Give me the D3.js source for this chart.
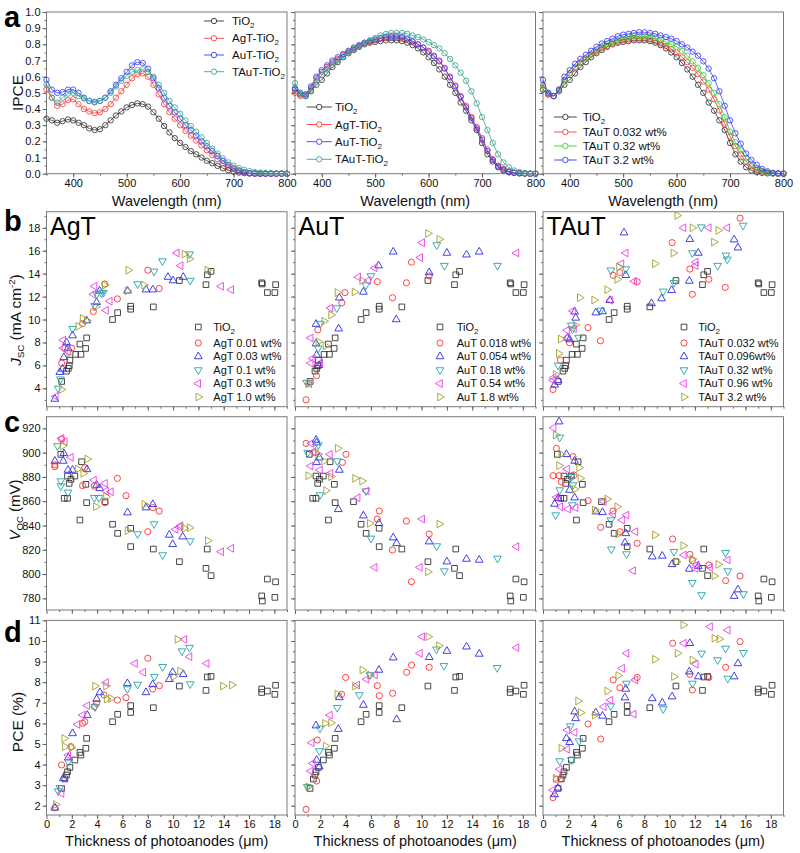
<!DOCTYPE html>
<html><head><meta charset="utf-8">
<script src="https://cdn.jsdelivr.net/npm/d3@7/dist/d3.min.js"></script>
<style>
html,body{margin:0;padding:0;background:#fff;}
svg{display:block;font-family:"Liberation Sans",Arial,Helvetica,sans-serif;}
</style></head><body>
<svg id="chart" width="800" height="853"></svg>
<script>
// ---------------- DATA ----------------
const wavelengths = [350,360,370,380,390,400,410,420,430,440,450,460,470,480,490,500,510,520,530,540,550,560,570,580,590,600,610,620,630,640,650,660,670,680,690,700,710,720,730,740,750,760,770,780,790,800];

// panel a (left)
const ipceA1TiO2 = [.34,.33,.315,.325,.335,.33,.315,.30,.28,.27,.275,.30,.33,.36,.385,.41,.425,.435,.43,.415,.38,.34,.295,.255,.22,.19,.165,.14,.12,.10,.08,.065,.048,.034,.022,.013,.007,.003,.001,0,0,0,0,0,0,0];
const ipceA1AgT  = [.52,.47,.42,.43,.455,.46,.43,.40,.385,.375,.38,.40,.43,.47,.51,.55,.59,.615,.62,.60,.55,.49,.43,.38,.34,.30,.265,.235,.205,.175,.145,.115,.09,.065,.045,.028,.015,.007,.003,.001,0,0,0,0,0,0];
const ipceA1AuT  = [.58,.52,.50,.505,.52,.52,.50,.47,.45,.445,.45,.47,.51,.55,.59,.63,.67,.69,.685,.65,.59,.53,.47,.42,.38,.34,.30,.27,.235,.20,.17,.14,.11,.08,.055,.035,.02,.01,.004,.001,0,0,0,0,0,0];
const ipceA1TAuT = [.55,.47,.44,.47,.495,.50,.48,.465,.45,.44,.45,.47,.50,.54,.575,.605,.63,.64,.645,.63,.60,.55,.50,.45,.41,.37,.33,.295,.26,.225,.19,.155,.125,.095,.07,.05,.035,.024,.016,.01,.007,.005,.003,.002,.001,0];
// panel a (middle)
const ipceA2TiO2 = [.52,.49,.48,.51,.55,.58,.62,.66,.69,.72,.745,.765,.785,.80,.81,.815,.82,.825,.825,.825,.82,.81,.795,.775,.75,.72,.685,.645,.60,.55,.50,.44,.39,.33,.27,.19,.12,.075,.04,.02,.01,.005,.002,.001,0,0];
const ipceA2AgT  = [.50,.48,.49,.53,.59,.63,.66,.69,.71,.735,.755,.775,.79,.805,.815,.825,.835,.84,.845,.845,.84,.83,.815,.80,.78,.76,.73,.70,.655,.60,.545,.48,.42,.35,.29,.22,.15,.09,.05,.03,.015,.007,.003,.001,0,0];
const ipceA2AuT  = [.53,.50,.49,.54,.60,.64,.67,.70,.72,.74,.76,.78,.795,.81,.82,.83,.84,.845,.85,.85,.845,.835,.82,.80,.78,.755,.725,.695,.65,.595,.54,.475,.41,.345,.28,.21,.14,.085,.045,.025,.012,.006,.003,.001,0,0];
const ipceA2TAuT = [.56,.50,.48,.52,.57,.61,.645,.675,.70,.725,.75,.77,.79,.81,.825,.84,.855,.865,.87,.87,.87,.865,.855,.845,.83,.815,.795,.775,.745,.71,.67,.625,.575,.51,.435,.35,.27,.19,.12,.07,.04,.02,.01,.004,.001,0];
// panel a (right)
const ipceA3T0032 = [.55,.49,.48,.52,.58,.62,.655,.685,.71,.735,.755,.775,.79,.805,.815,.825,.83,.835,.835,.835,.83,.82,.805,.79,.77,.75,.72,.69,.655,.615,.57,.52,.46,.39,.31,.23,.17,.12,.075,.045,.025,.013,.006,.003,.001,0];
const ipceA3T032  = [.54,.50,.48,.51,.57,.62,.66,.69,.715,.74,.765,.785,.80,.815,.825,.835,.845,.85,.85,.85,.845,.84,.83,.815,.80,.785,.76,.73,.695,.655,.61,.56,.50,.43,.35,.26,.195,.145,.095,.06,.035,.018,.008,.003,.001,0];
const ipceA3T32   = [.58,.50,.48,.52,.60,.64,.68,.71,.735,.76,.785,.805,.82,.835,.85,.86,.865,.87,.875,.875,.87,.865,.855,.845,.835,.82,.80,.78,.755,.73,.695,.65,.59,.51,.42,.33,.25,.185,.125,.085,.055,.03,.015,.006,.002,0];

const legendA1 = ["TiO2","AgT-TiO2","AuT-TiO2","TAuT-TiO2"];
const legendA3 = ["TiO2","TAuT 0.032 wt%","TAuT 0.32 wt%","TAuT 3.2 wt%"];

// TiO2 reference devices (thickness µm, value)
const tio2Jsc = [[1.2,4.6],[1.58,5.5],[1.72,5.74],[1.8,5.97],[1.85,6.46],[2.3,6.96],[2.72,6.96],[2.64,7.86],[3.09,7.48],[3.17,8.4],[5.22,10.0],[5.62,10.6],[6.65,11.16],[6.65,10.9],[8.44,11.1],[10.5,13.4],[12.6,13.04],[12.7,13.9],[13.0,14.2],[17.0,13.2],[17.05,13.1],[17.45,12.35],[18.04,12.35],[18.1,13.04]];
const tio2Voc = [[1.13,898.6],[1.4,862.4],[1.66,862.4],[1.66,880.7],[1.79,874.7],[1.93,878],[2.24,880.7],[2.77,892.5],[3.11,873.9],[3.17,858.8],[2.64,844.5],[4.62,859.6],[5.22,841],[5.62,833.5],[6.65,837.7],[6.65,822.6],[8.44,820.6],[10.5,810.2],[12.6,804.7],[12.7,820.6],[13.0,798.7],[17.0,782],[17.05,777.8],[17.45,795.9],[18.04,780.8],[18.1,793.6]];
const tio2Pce = [[1.19,2.84],[1.45,3.3],[1.58,3.49],[1.66,3.65],[1.85,3.86],[2.24,4.22],[2.64,4.59],[2.72,4.46],[3.11,4.79],[3.17,5.27],[5.22,6.08],[5.62,6.44],[6.65,6.86],[6.65,6.53],[8.44,6.76],[10.5,7.81],[12.6,7.6],[12.7,8.25],[13.0,8.28],[17.0,7.67],[17.0,7.5],[17.45,7.57],[18.04,7.41],[18.1,7.85]];

// Jsc
const jscAgT = [
 [[1.2,6.2],[1.45,7.5],[1.98,7.5],[2.85,9.65],[3.7,10.7],[4.6,13.1],[5.6,11.8],[8.0,14.3],[8.9,12.7]],
 [[0.66,3.07],[1.05,5.4],[1.27,5.7],[1.37,6.7],[1.7,7.5],[1.58,8.0],[2.06,8.6],[3.17,9.9],[3.96,11.5],[4.2,12.5],[6.4,12.5],[7.86,12.6],[8.4,12.6],[9.6,13.7],[10.0,13.4],[10.8,13.7]],
 [[0.92,4.0],[1.1,4.8],[2.06,9.2],[3.8,11.2],[3.96,12.2],[4.35,12.3],[4.5,12.35],[7.2,13.1],[8.5,14.2],[9.16,15.1],[11.3,15.7],[11.35,13.4]],
 [[0.74,3.3],[1.32,8.2],[1.32,7.5],[1.7,7.2],[3.7,12.2],[3.8,12.9],[4.7,10.8],[5.0,11.6],[10.3,15.8],[10.6,14.7],[13.8,12.9],[14.6,12.6]],
 [[1.19,3.9],[1.8,7.1],[2.5,9.4],[2.85,10.1],[3.2,9.9],[3.9,11.1],[4.6,13.0],[6.4,12.5],[6.46,14.3],[7.7,13.0],[10.9,15.7],[11.3,15.3],[12.7,14.3]]
];
const jscAuT = [
 [[0.87,3.0],[1.7,5.1],[1.8,9.1],[3.7,11.45],[3.95,12.35],[6.5,13.3],[7.7,11.9],[8.8,13.2],[9.2,15.0],[10.6,13.8]],
 [[1.66,9.6],[1.66,7.9],[1.7,6.9],[1.9,6.0],[3.45,9.2],[3.5,11.9],[5.4,12.4],[6.6,14.7],[7.76,15.9],[8.0,10.0],[10.6,14.1],[12.0,15.8],[13.55,15.65],[14.55,15.9]],
 [[0.92,4.5],[1.84,7.5],[2.0,9.65],[3.3,11.0],[5.6,13.0],[6.0,13.8],[11.2,16.5],[11.8,14.7],[16.0,14.7]],
 [[1.13,4.4],[1.24,6.2],[1.24,8.4],[1.4,6.6],[2.0,6.2],[2.8,11.0],[5.0,13.7],[5.8,13.4],[6.3,14.5],[9.9,15.4],[10.05,16.7],[17.5,15.8]],
 [[1.05,4.4],[1.84,8.06],[2.3,9.85],[2.4,7.7],[2.85,10.4],[3.35,12.35],[4.7,12.4],[5.3,13.4],[10.5,17.5],[11.4,17.0]]
];
const jscTAuT = [
 [[0.79,3.9],[1.37,6.46],[2.1,7.97],[3.56,9.3],[4.54,8.15],[5.54,13.85],[6.07,14.1],[7.44,13.3],[10.2,16.7],[11.6,14.4],[11.8,12.2],[13.1,13.5],[14.4,12.8],[15.57,18.84]],
 [[0.92,4.3],[1.19,4.7],[1.93,8.4],[2.1,8.26],[2.5,10.67],[2.58,10.14],[4.17,10.6],[4.7,10.7],[5.28,11.68],[6.4,17.57],[6.54,13.86],[8.57,11.4],[9.37,11.83],[10.16,12.55],[11.56,13.36],[11.6,17.0],[12.27,15.8],[15.1,16.96],[15.4,16.26]],
 [[1.19,6.0],[2.24,9.5],[2.32,9.16],[2.82,8.43],[4.56,10.8],[5.36,14.3],[6.54,14.4],[9.5,12.46],[10.34,13.2],[11.8,15.8],[12.5,18.06],[13.8,14.7],[14.46,15.6],[14.56,15.25],[15.8,18.2]],
 [[0.79,4.7],[0.84,4.93],[1.93,8.43],[1.9,9.07],[2.45,9.2],[2.37,10.75],[5.33,11.68],[6.2,14.87],[6.54,15.8],[7.2,13.33],[11.1,18.0],[12.06,15.0],[12.06,14.7],[13.1,18.0],[14.56,18.0]],
 [[1.0,5.2],[1.24,7.04],[1.4,8.3],[2.56,9.5],[2.9,11.9],[4.04,11.7],[5.07,12.6],[5.86,13.5],[6.0,14.6],[8.84,14.87],[10.3,15.8],[10.6,19.07],[11.8,18.0],[13.5,16.75],[13.85,17.77]]
];
// Voc
const vocAgT = [
 [[0.66,888.4],[0.66,890],[1.19,911],[2.85,872.8],[3.03,887.6],[3.77,872.5],[4.62,858.8],[5.6,878.8],[6.28,864.6],[8.0,834.9],[8.4,854.7],[8.9,851.9]],
 [[0.66,893.1],[1.32,893.1],[1.37,899.4],[1.7,885.7],[2.06,885.7],[3.2,886.2],[3.96,873.3],[4.2,870.6],[6.4,850.6],[7.86,854.7],[8.4,857.4],[9.7,832.2],[9.97,824.5],[10.76,830.8]],
 [[0.87,905.5],[1.13,876.6],[1.13,872.5],[1.7,867.3],[3.77,862.9],[4.14,862.9],[7.2,833],[8.5,841.2],[9.18,815.7],[11.35,827.2]],
 [[1.19,911.8],[1.45,909],[1.93,896.1],[3.75,877.4],[4.62,874.7],[4.7,868.4],[5.09,867.8],[10.2,836.8],[10.5,838.7],[10.6,839.8],[13.8,818.4],[14.6,821.2]],
 [[1.27,905.5],[2.45,886.5],[2.9,882.9],[3.22,894.7],[3.9,855.5],[4.7,863.7],[6.4,835.7],[7.73,857.4],[10.9,837.7],[11.3,838.2],[12.74,827.5]]
];
const vocAuT = [
 [[0.87,907.6],[1.6,900],[3.74,892],[4.03,898.6],[6.5,845.3],[6.66,851.9],[7.7,819.8],[8.8,843.7],[9.2,793.7],[10.6,833]],
 [[1.66,910.4],[1.7,908.2],[1.7,892],[1.92,895.8],[3.42,853.3],[3.5,885.7],[5.4,848.1],[6.63,841.8],[7.76,830],[8.03,825.3],[10.6,826.7],[12.0,810.2],[13.55,812.4],[14.55,811.6]],
 [[1.0,900],[1.84,906.3],[1.97,865.1],[3.34,893.1],[5.6,868.4],[6.0,829.4],[11.2,823.1],[11.8,802.5],[16.0,812.9]],
 [[1.24,889],[1.3,907.6],[1.45,900.8],[1.97,885.7],[2.76,898.6],[2.8,882.9],[4.95,862.9],[5.66,868.4],[6.3,805.5],[9.87,805.5],[10.05,845.3],[17.5,822.6]],
 [[1.05,881],[1.84,898.6],[2.29,893.1],[2.45,868.7],[2.84,880.2],[3.37,903.5],[4.74,878.8],[5.3,876.6],[5.9,841.8],[10.5,801.9],[11.4,841.2]]
];
const vocTAuT = [
 [[0.79,881],[1.06,903.5],[1.27,881],[1.45,876],[2.37,896.7],[2.45,881.6],[3.56,860.4],[4.56,838.5],[5.54,851.9],[6.07,834.9],[7.44,825.3],[10.24,828.9],[11.6,816.2],[11.8,811],[13.1,807.5],[14.43,794.6],[15.57,798.4]],
 [[0.92,857.7],[1.19,862.4],[1.27,925.5],[1.85,898.6],[2.1,869.2],[2.5,893.1],[2.5,862.9],[4.17,851.4],[4.7,850.8],[6.47,825.8],[6.54,833.5],[8.63,814.3],[9.42,814.9],[10.2,808],[11.56,804.2],[12.27,806.5],[15.1,781.8],[15.4,787.2]],
 [[1.0,848.6],[1.32,912.6],[1.32,869.2],[2.24,880.2],[2.32,856.9],[2.37,873.3],[5.36,844.5],[5.4,820.4],[6.6,816.5],[10.34,818.4],[11.8,792.9],[12.53,782.8],[14.43,817.6],[14.6,802.5],[15.83,783.6]],
 [[0.84,920.5],[1.06,863.2],[1.37,855.5],[1.9,886.5],[1.98,853.6],[2.58,854.7],[4.8,859.6],[5.54,849.5],[6.25,844.5],[6.6,848.6],[7.12,802.8],[7.3,834.9],[11.13,815.7],[12.06,804.7],[12.14,807.5],[13.2,805.5],[14.6,811.6]],
 [[1.0,914.5],[1.27,889.3],[1.45,898.6],[2.5,869.8],[2.85,887.6],[2.95,878.8],[4.09,852.7],[5.07,861.8],[5.86,855.5],[5.94,833],[8.84,832.2],[10.55,810.2],[11.08,823.4],[11.8,812.4],[13.54,798.4],[13.85,808]]
];
// PCE
const pceAgT = [
 [[0.66,1.9],[1.19,3.98],[1.93,4.87],[2.85,6.0],[3.03,6.08],[3.77,6.81],[3.96,6.97],[4.54,7.38],[5.6,7.13],[6.28,7.25],[8.0,9.16],[8.39,7.67],[8.92,7.83]],
 [[0.66,1.9],[1.32,3.33],[1.72,4.33],[2.06,5.51],[3.22,6.4],[3.96,7.18],[4.22,7.5],[6.39,7.94],[7.86,7.5],[8.39,7.89],[9.71,8.14],[9.97,8.48],[10.8,8.38]],
 [[0.92,2.71],[1.06,2.87],[1.72,4.14],[3.83,6.8],[6.39,7.67],[7.2,7.89],[8.52,8.27],[9.18,8.75],[10.7,9.51],[11.3,9.68],[11.35,7.91]],
 [[1.19,2.6],[1.72,4.46],[2.45,5.95],[2.85,6.4],[3.22,6.86],[4.7,7.98],[6.99,8.91],[7.65,8.48],[10.9,10.08],[11.3,9.24],[12.66,8.91]],
 [[0.74,2.06],[1.4,5.27],[1.45,4.87],[1.98,4.82],[3.83,7.81],[4.7,7.81],[4.75,7.18],[5.09,7.21],[10.03,8.27],[10.34,10.08],[10.55,8.54],[13.93,7.81],[14.64,7.86]]
];
const pceAuT = [
 [[0.87,1.82],[1.71,3.2],[1.76,5.19],[3.68,7.41],[4.0,8.23],[6.5,7.83],[6.66,7.34],[7.71,7.46],[8.82,8.48],[9.21,8.83],[10.6,8.72]],
 [[1.66,5.89],[1.71,4.22],[1.92,3.9],[3.42,5.72],[3.5,7.26],[5.4,6.89],[6.63,8.59],[7.76,9.19],[8.03,6.19],[10.6,9.21],[12.0,9.51],[13.55,9.72],[14.55,9.37]],
 [[0.97,2.92],[1.92,4.66],[1.97,5.76],[3.34,6.76],[5.08,7.38],[5.92,8.35],[11.18,9.6],[11.76,8.8],[15.97,8.7]],
 [[1.24,3.68],[1.32,5.06],[1.4,4.06],[2.76,6.4],[4.92,7.86],[5.66,8.14],[6.32,8.35],[9.87,9.4],[10.05,10.21],[17.5,9.68]],
 [[1.05,2.92],[2.37,6.0],[2.42,4.9],[2.84,6.03],[3.34,7.43],[4.74,7.81],[5.32,8.59],[5.92,8.35],[10.53,10.21],[11.37,9.77]]
];
const pceTAuT = [
 [[0.79,2.39],[1.06,3.28],[1.37,3.3],[3.56,5.97],[4.56,5.24],[5.54,8.11],[6.07,7.73],[7.44,8.23],[10.24,9.89],[11.6,8.38],[11.8,7.62],[13.1,8.23],[14.43,8.72],[15.57,9.97]],
 [[0.92,2.55],[1.19,2.87],[1.85,5.27],[2.1,5.08],[2.5,6.57],[2.58,6.24],[4.17,6.52],[4.7,6.36],[6.47,7.25],[6.54,7.67],[8.63,7.21],[9.42,7.0],[10.2,7.3],[11.56,8.51],[11.6,9.89],[12.27,8.27],[15.1,8.27],[15.4,8.91]],
 [[1.32,4.17],[2.16,5.87],[2.24,4.22],[2.85,5.14],[5.36,6.84],[6.6,7.94],[9.5,6.7],[11.8,7.94],[12.53,9.4],[13.8,9.08],[14.43,9.64],[14.6,8.18],[15.83,9.43]],
 [[0.79,2.76],[1.32,3.77],[1.9,4.75],[1.93,5.68],[2.5,5.56],[4.8,6.81],[5.33,7.13],[6.25,8.67],[6.6,9.4],[7.17,6.45],[7.3,8.11],[11.13,9.89],[12.08,8.87],[13.2,10.7],[14.6,10.53]],
 [[1.0,3.33],[1.45,4.79],[2.77,7.09],[2.98,6.52],[4.09,6.4],[5.07,7.57],[5.94,8.32],[8.84,9.11],[10.34,8.27],[10.63,9.4],[11.08,10.78],[11.8,9.08],[13.54,10.13],[13.93,10.1]]
];

const agtLabels  = ["TiO2","AgT 0.01 wt%","AgT 0.03 wt%","AgT 0.1 wt%","AgT 0.3 wt%","AgT 1.0 wt%"];
const autLabels  = ["TiO2","AuT 0.018 wt%","AuT 0.054 wt%","AuT 0.18 wt%","AuT 0.54 wt%","AuT 1.8 wt%"];
const tautLabels = ["TiO2","TAuT 0.032 wt%","TAuT 0.096wt%","TAuT 0.32 wt%","TAuT 0.96 wt%","TAuT 3.2 wt%"];
const panelNames = ["AgT","AuT","TAuT"];

// ---------------- STYLE / LAYOUT ----------------
const svg = d3.select('#chart');
const COLS = [46.5, 295, 543], PW = 240.5;
const ROWS = {a:[12,173.7], b:[211.7,406.7], c:[416.7,610], d:[620.4,815]};
const lineColors1 = ['#333333','#ff3b3b','#3b3bff','#3aa596'];
const lineColors3 = ['#333333','#ff3b3b','#3ad03a','#3b3bff'];
const scatStyle = [
  {sym:d3.symbolSquare,   rot:0,   size:32, col:'#333333'},
  {sym:d3.symbolCircle,   rot:0,   size:30, col:'#ff3030'},
  {sym:d3.symbolTriangle, rot:0,   size:26, col:'#2b2be6'},
  {sym:d3.symbolTriangle, rot:180, size:26, col:'#25a3aa'},
  {sym:d3.symbolTriangle, rot:-90, size:26, col:'#ee3aee'},
  {sym:d3.symbolTriangle, rot:90,  size:26, col:'#a0a02a'}
];

function rich(textSel, str, subSize){
  const idx = str.indexOf('TiO2');
  if (idx < 0) { textSel.text(str); return; }
  textSel.append('tspan').text(str.slice(0, idx + 3));
  textSel.append('tspan').attr('dy', 3).attr('font-size', subSize || 8).text('2');
  const rest = str.slice(idx + 4);
  if (rest) textSel.append('tspan').attr('dy', -3).text(rest);
}

function makePanel(col, row){
  const [t, b] = ROWS[row];
  const g = svg.append('g').attr('transform', `translate(${COLS[col]},${t})`);
  return {g, w: PW, h: b - t};
}

function styleAxis(s){
  s.select('.domain').remove();
  s.attr('font-family', null).attr('font-size', 11);
  s.selectAll('.tick line').attr('stroke', '#555').attr('stroke-width', 0.9);
  s.selectAll('.tick text').attr('fill', '#111');
}

function drawAxes(p, xs, ys, o){
  const {g, w, h} = p;
  g.append('g').attr('transform', `translate(0,${h})`)
    .call(d3.axisBottom(xs).tickValues(o.xMinor).tickSize(2).tickFormat('')).call(styleAxis);
  g.append('g').attr('transform', `translate(0,${h})`)
    .call(d3.axisBottom(xs).tickValues(o.xMajor).tickSize(4).tickPadding(1.5).tickFormat(o.xLab ? o.xFmt : () => '')).call(styleAxis);
  g.append('g')
    .call(d3.axisLeft(ys).tickValues(o.yMinor).tickSize(2).tickFormat('')).call(styleAxis);
  g.append('g')
    .call(d3.axisLeft(ys).tickValues(o.yMajor).tickSize(4).tickPadding(2).tickFormat(o.yLab ? o.yFmt : () => '')).call(styleAxis);
  g.append('rect').attr('x', 0).attr('y', 0).attr('width', w).attr('height', h)
    .attr('fill', 'none').attr('stroke', '#7a7a7a').attr('stroke-width', 1);
}

function stepList(a, b, s){ const r = []; for (let v = a; v <= b + 1e-9; v += s) r.push(+v.toFixed(4)); return r; }

// ---------------- ROW a : IPCE ----------------
const ipceSets = [
  [ipceA1TiO2, ipceA1AgT, ipceA1AuT, ipceA1TAuT],
  [ipceA2TiO2, ipceA2AgT, ipceA2AuT, ipceA2TAuT],
  [ipceA2TiO2, ipceA3T0032, ipceA3T032, ipceA3T32]
];
const legendA = [legendA1, legendA1, legendA3];
const legPosA = [
  {x1:157.5, x2:177.5, tx:185.5, ys:[9,26.3,43,59.7]},
  {x1:11.7, x2:36.7, tx:40, ys:[95,112.5,129.7,147.3]},
  {x1:11, x2:33.7, tx:39.7, ys:[105,120,134,148]}
];
for (let c = 0; c < 3; c++){
  const p = makePanel(c, 'a');
  const xs = d3.scaleLinear().domain([350, 800]).range([0, p.w]);
  const ys = d3.scaleLinear().domain([0, 1.0]).range([p.h, 0]);
  drawAxes(p, xs, ys, {
    xMajor: [400,500,600,700,800], xMinor: stepList(350,800,50), xLab: true, xFmt: d3.format('d'),
    yMajor: stepList(0,1,0.1), yMinor: stepList(0,1,0.05), yLab: c === 0, yFmt: d3.format('.1f')
  });
  const cols = c === 2 ? lineColors3 : lineColors1;
  ipceSets[c].forEach((ser, i) => {
    const pts = wavelengths.map((wl, k) => [wl, ser[k]]);
    p.g.append('path').datum(pts)
      .attr('d', d3.line().x(d => xs(d[0])).y(d => ys(d[1])))
      .attr('fill', 'none').attr('stroke', cols[i]).attr('stroke-width', 0.8);
    p.g.append('g').selectAll('circle').data(pts).join('circle')
      .attr('cx', d => xs(d[0])).attr('cy', d => ys(d[1])).attr('r', 2.7)
      .attr('fill', 'none').attr('stroke', cols[i]).attr('stroke-width', 0.85);
  });
  const L = legPosA[c];
  legendA[c].forEach((lab, i) => {
    const y = L.ys[i];
    p.g.append('line').attr('x1', L.x1).attr('x2', L.x2).attr('y1', y).attr('y2', y)
      .attr('stroke', cols[i]).attr('stroke-width', 0.9);
    p.g.append('circle').attr('cx', (L.x1 + L.x2) / 2).attr('cy', y).attr('r', 2.7)
      .attr('fill', '#fff').attr('stroke', cols[i]).attr('stroke-width', 0.9);
    const t = p.g.append('text').attr('x', L.tx).attr('y', y + 4).attr('font-size', 11.5).attr('fill', '#111');
    rich(t, lab, 8);
  });
  p.g.append('text').attr('x', p.w / 2).attr('y', 205.5 - ROWS.a[0]).attr('text-anchor', 'middle')
    .attr('font-size', 14.5).attr('fill', '#111').text('Wavelength (nm)');
}

// ---------------- ROWS b, c, d : scatter ----------------
const scatterRows = [
  {row:'b', dom:[2.4,19.4], maj:stepList(4,18,2), min:stepList(3,19,1), fmt:d3.format('d'), tio2:tio2Jsc, sets:[jscAgT, jscAuT, jscTAuT]},
  {row:'c', dom:[770.4,929.6], maj:stepList(780,920,20), min:stepList(780,920,10), fmt:d3.format('d'), tio2:tio2Voc, sets:[vocAgT, vocAuT, vocTAuT]},
  {row:'d', dom:[1.55,11], maj:stepList(2,11,1), min:stepList(2,11,0.5), fmt:d3.format('d'), tio2:tio2Pce, sets:[pceAgT, pceAuT, pceTAuT]}
];
const legLabels = [agtLabels, autLabels, tautLabels];
const legX = [[151.8,166.8],[145,161.7],[141,155.3]];
const legY = [327, 343, 356.5, 370, 383.5, 397];

function marker(sel, st, x, y){
  sel.append('path').attr('d', d3.symbol().type(st.sym).size(st.size)())
    .attr('transform', `translate(${x},${y}) rotate(${st.rot})`)
    .attr('fill', 'none').attr('stroke', st.col).attr('stroke-width', 0.9);
}

scatterRows.forEach(R => {
  for (let c = 0; c < 3; c++){
    const p = makePanel(c, R.row);
    const xs = d3.scaleLinear().domain([0, 19]).range([0, p.w]);
    const ys = d3.scaleLinear().domain(R.dom).range([p.h, 0]);
    drawAxes(p, xs, ys, {
      xMajor: stepList(0,18,2), xMinor: stepList(1,19,1), xLab: R.row === 'd', xFmt: d3.format('d'),
      yMajor: R.maj, yMinor: R.min, yLab: c === 0, yFmt: R.fmt
    });
    const all = [R.tio2].concat(R.sets[c]);
    all.forEach((ser, i) => {
      const st = scatStyle[i];
      const gg = p.g.append('g');
      ser.forEach(d => marker(gg, st, xs(d[0]), ys(d[1])));
    });
    if (R.row === 'b'){
      p.g.append('text').attr('x', 3.5).attr('y', 235 - ROWS.b[0]).attr('font-size', 25).attr('fill', '#000')
        .text(panelNames[c]);
      legLabels[c].forEach((lab, i) => {
        const y = legY[i] - ROWS.b[0];
        marker(p.g, scatStyle[i], legX[c][0], y);
        const t = p.g.append('text').attr('x', legX[c][1]).attr('y', y + 4).attr('font-size', 11).attr('fill', '#111');
        rich(t, lab, 8);
      });
    }
    if (R.row === 'd'){
      const t = p.g.append('text').attr('x', p.w / 2).attr('y', 846.5 - ROWS.d[0]).attr('text-anchor', 'middle')
        .attr('font-size', 14.5).attr('fill', '#111');
      t.append('tspan').text('Thickness of photoanodes (');
      t.append('tspan').text('\u03bc');
      t.append('tspan').text('m)');
    }
  }
});

// ---------------- Y titles & panel letters ----------------
function yTitle(x, y, parts, fs){
  const t = svg.append('text').attr('transform', `translate(${x},${y}) rotate(-90)`)
    .attr('text-anchor', 'middle').attr('font-size', fs || 15.5).attr('fill', '#111');
  parts.forEach(pt => {
    const s = t.append('tspan').text(pt.t);
    if (pt.it) s.attr('font-style', 'italic');
    if (pt.small) s.attr('font-size', 9.5);
    if (pt.dy) s.attr('dy', pt.dy);
  });
}
yTitle(23, 93, [{t:'IPCE'}]);
yTitle(21, 320, [{t:'J', it:true}, {t:'SC', small:true, dy:3}, {t:' (mA cm', dy:-3}, {t:'-2', small:true, dy:-6}, {t:')', dy:6}]);
yTitle(19.5, 510, [{t:'V', it:true}, {t:'OC', small:true, dy:3}, {t:' (mV)', dy:-3}], 15);
yTitle(23, 722, [{t:'PCE (%)'}]);

[['a',26.5],['b',231],['c',432],['d',642]].forEach(([l, y]) => {
  svg.append('text').attr('x', 4).attr('y', y).attr('font-size', 29).attr('font-weight', 'bold')
    .attr('fill', '#000').text(l);
});
</script></body></html>
